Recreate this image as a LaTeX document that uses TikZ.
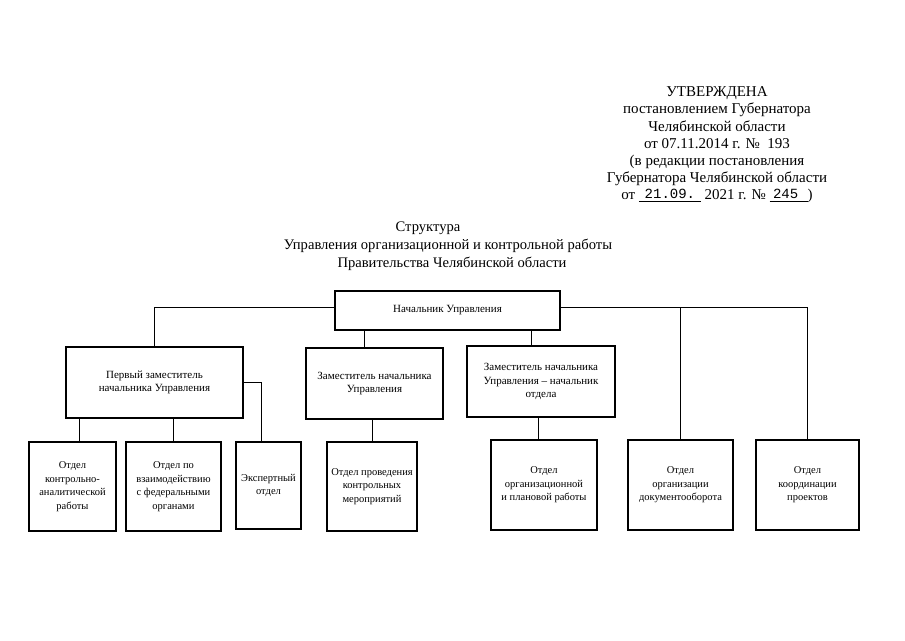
\documentclass[tikz,border=0pt]{standalone}
\usepackage{fontspec}
\setmainfont{Liberation Serif}
\newfontfamily\typefont{Liberation Mono}
\usepackage{tikz}
\usetikzlibrary{calc}
\tikzset{
	chiefbox/.style={draw, line width=1.3pt, inner sep=1pt, align=center, font=\fontsize{11}{13.5}\selectfont},
	deptbox/.style={draw, line width=1.3pt, inner sep=1pt, align=center, font=\fontsize{10.5}{13.5}\selectfont},
	link/.style={line width=0.7pt},
}
\def\blank#1#2{\underline{\makebox[#1]{\raisebox{1.5pt}{\typefont\fontsize{14}{14}\selectfont #2}}}}

\begin{document}
\begin{tikzpicture}[x=1pt,y=-1pt]
			%%%%% START %%%%%
			\useasboundingbox (0,0) rectangle (905,640);
			
			\node[align=center, font=\fontsize{15}{17.2}\selectfont] (stamp) at (717,145) {УТВЕРЖДЕНА\\постановлением Губернатора\\Челябинской области\\от 07.11.2014 г. №~ 193\\(в редакции постановления\\Губернатора Челябинской области\\от \blank{62pt}{21.09.} 2021 г. № \blank{38pt}{245\hspace{6pt}})};
			
			\node[align=center, font=\fontsize{14.6}{18}\selectfont] (title) at (448,246) {Структура\hspace*{40pt}\\Управления организационной и контрольной работы\\\hspace*{8pt}Правительства Челябинской области};
			
			\node[chiefbox, minimum width=225, minimum height=39] (head) at (447.5,310.5) {Начальник Управления};
			
			\node[chiefbox, minimum width=177, minimum height=71] (dep1) at (154.5,382.5) {Первый заместитель\\начальника Управления};
			\node[chiefbox, minimum width=137, minimum height=71] (dep2) at (374.5,383.5) {Заместитель начальника\\Управления};
			\node[chiefbox, minimum width=148, minimum height=71] (dep3) at (541,381.5) {Заместитель начальника\\Управления – начальник\\отдела};
			
			\node[deptbox, minimum width=87, minimum height=89] (b1) at (72.5,486.5) {Отдел\\контрольно-\\аналитической\\работы};
			\node[deptbox, minimum width=95, minimum height=89] (b2) at (173.5,486.5) {Отдел по\\взаимодействию\\с федеральными\\органами};
			\node[deptbox, minimum width=65, minimum height=87] (b3) at (268.5,485.5) {Экспертный\\отдел};
			\node[deptbox, minimum width=90, minimum height=89] (b4) at (372,486.5) {Отдел проведения\\контрольных\\мероприятий};
			\node[deptbox, minimum width=106, minimum height=90] (b5) at (544,485) {Отдел\\организационной\\и плановой работы};
			\node[deptbox, minimum width=105, minimum height=90] (b6) at (680.5,485) {Отдел\\организации\\документооборота};
			\node[deptbox, minimum width=103, minimum height=90] (b7) at (807.5,485) {Отдел\\координации\\проектов};
			
			\coordinate (leftbus) at ([yshift=3pt]head.west);
			\coordinate (rightbus) at ([yshift=3pt]head.east);
			\coordinate (dep2tap) at ([xshift=-10pt]dep2.north);
			\coordinate (dep3tap) at ([xshift=-10pt]dep3.north);
			\coordinate (b1tap) at ([xshift=7pt]b1.north);
			\coordinate (b3tap) at ([xshift=-7pt]b3.north);
			\coordinate (b5tap) at ([xshift=-6pt]b5.north);
			
			\draw[link] (leftbus) -| (dep1.north);
			\draw[link] (rightbus) -| (b7.north);
			\draw[link] (rightbus -| b6.north) -- (b6.north);
			\draw[link] (head.south -| dep2tap) -- (dep2tap);
			\draw[link] (head.south -| dep3tap) -- (dep3tap);
			
			\draw[link] (b1tap |- dep1.south) -- (b1tap);
			\draw[link] (b2.north |- dep1.south) -- (b2.north);
			\draw[link] (dep1.east) -| (b3tap);
			\draw[link] (b4.north |- dep2.south) -- (b4.north);
			\draw[link] (b5tap |- dep3.south) -- (b5tap);
			
			%%%%% END %%%%%
\end{tikzpicture}
\end{document}
